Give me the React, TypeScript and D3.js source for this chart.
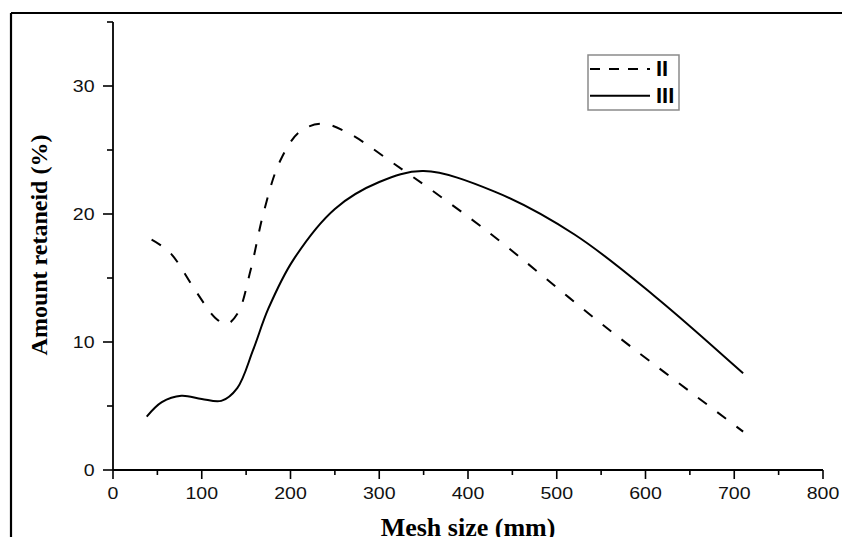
import React from "react";
import * as d3 from "d3";

const xMajorTicks = [0, 100, 200, 300, 400, 500, 600, 700, 800];
const xMinorTicks = [50, 150, 250, 350, 450, 550, 650, 750];
const yMajorTicks = [0, 10, 20, 30];
const yMinorTicks = [5, 15, 25, 35];

const seriesIIx = [43.5, 64, 94, 115, 128, 141, 155, 170, 188, 210, 235, 263, 316, 417, 560, 710];
const seriesIIy = [18.0, 17.0, 13.9, 11.9, 11.4, 12.3, 15.6, 20.2, 24.1, 26.4, 27.05, 26.4, 23.96, 18.9, 10.9, 3.0];

const seriesIIIx = [38, 55, 77, 100, 122, 140, 158, 175, 203, 250, 300, 350, 430, 520, 610, 710];
const seriesIIIy = [4.17, 5.3, 5.8, 5.55, 5.4, 6.4, 9.4, 12.6, 16.4, 20.4, 22.5, 23.35, 21.75, 18.4, 13.6, 7.55];

const legendLabels = ["II", "III"];

const W = 842;
const H = 537;

export default function App() {
  const x = d3.scaleLinear().domain([0, 800]).range([113, 823]);
  const y = d3.scaleLinear().domain([0, 35]).range([470, 22]);

  const line = d3
    .line<[number, number]>()
    .x((d) => x(d[0]))
    .y((d) => y(d[1]))
    .curve(d3.curveCatmullRom.alpha(0.5));

  const dII = line(seriesIIx.map((v, i) => [v, seriesIIy[i]] as [number, number])) || "";
  const dIII = line(seriesIIIx.map((v, i) => [v, seriesIIIy[i]] as [number, number])) || "";

  const sans = "'Liberation Sans', Arial, sans-serif";
  const serif = "'Liberation Serif', 'Times New Roman', serif";
  const sx = 1.15;

  return (
    <svg width={W} height={H} style={{ position: "absolute", left: 0, top: 0, background: "#fff" }}>
      <rect x={0} y={0} width={W} height={H} fill="#fff" />
      {/* frame */}
      <line x1={11} y1={13} x2={W} y2={13} stroke="#000" strokeWidth={2.2} />
      <line x1={11} y1={13} x2={11} y2={H} stroke="#000" strokeWidth={2.2} />

      {/* axes */}
      <line x1={x(0)} y1={y(35)} x2={x(0)} y2={y(0)} stroke="#000" strokeWidth={1.8} />
      <line x1={x(0)} y1={y(0)} x2={x(800)} y2={y(0)} stroke="#000" strokeWidth={1.8} />

      {xMajorTicks.map((t) => (
        <g key={"xM" + t}>
          <line x1={x(t)} x2={x(t)} y1={y(0)} y2={y(0) + 9} stroke="#000" strokeWidth={1.6} />
          <g transform={`translate(${x(t)},${499}) scale(${sx},1)`}>
            <text textAnchor="middle" fontFamily={sans} fontSize={17} fill="#111">
              {t}
            </text>
          </g>
        </g>
      ))}
      {xMinorTicks.map((t) => (
        <line key={"xm" + t} x1={x(t)} x2={x(t)} y1={y(0)} y2={y(0) + 5} stroke="#000" strokeWidth={1.6} />
      ))}
      {yMajorTicks.map((t) => (
        <g key={"yM" + t}>
          <line x1={x(0) - 10} x2={x(0)} y1={y(t)} y2={y(t)} stroke="#000" strokeWidth={1.6} />
          <g transform={`translate(${94.5},${y(t) + 6}) scale(${sx},1)`}>
            <text textAnchor="end" fontFamily={sans} fontSize={17} fill="#111">
              {t}
            </text>
          </g>
        </g>
      ))}
      {yMinorTicks.map((t) => (
        <line key={"ym" + t} x1={x(0) - 6} x2={x(0)} y1={y(t)} y2={y(t)} stroke="#000" strokeWidth={1.6} />
      ))}

      {/* curves */}
      <path d={dII} fill="none" stroke="#000" strokeWidth={2} strokeDasharray="11,13" />
      <path d={dIII} fill="none" stroke="#000" strokeWidth={2} />

      {/* legend */}
      <rect x={588} y={55} width={91} height={55} fill="#fff" stroke="#8a8a8a" strokeWidth={1.5} />
      <line x1={590} x2={650} y1={69} y2={69} stroke="#000" strokeWidth={2} strokeDasharray="10,9" />
      <line x1={590} x2={650} y1={95.7} y2={95.7} stroke="#000" strokeWidth={2} />
      <text x={656} y={75.7} fontFamily={sans} fontWeight="bold" fontSize={22} fill="#000">
        {legendLabels[0]}
      </text>
      <text x={656} y={103.3} fontFamily={sans} fontWeight="bold" fontSize={22} fill="#000">
        {legendLabels[1]}
      </text>

      {/* axis titles */}
      <text x={468} y={536} textAnchor="middle" fontFamily={serif} fontWeight="bold" fontSize={26} fill="#000">
        Mesh size (mm)
      </text>
      <text
        transform="translate(47,245) rotate(-90)"
        textAnchor="middle"
        fontFamily={serif}
        fontWeight="bold"
        fontSize={24}
        fill="#000"
      >
        Amount retaneid (%)
      </text>
    </svg>
  );
}
